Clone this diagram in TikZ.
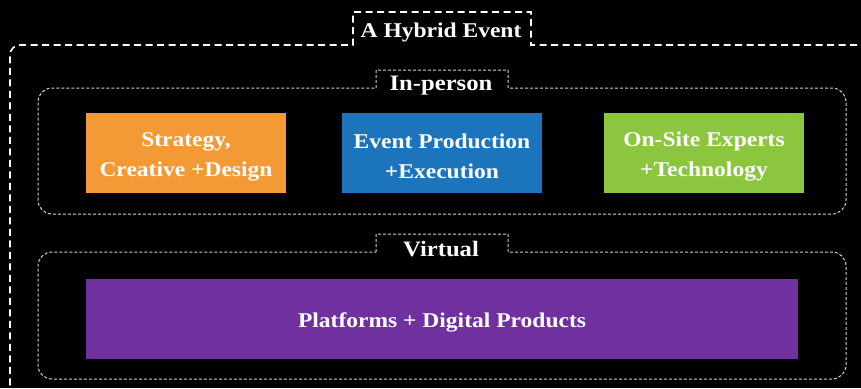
\documentclass[tikz,border=0pt]{standalone}
\usepackage{fontspec}
\setmainfont{Liberation Serif}[FakeStretch=1.12]
\definecolor{strategyorange}{HTML}{F39A37}
\definecolor{productionblue}{HTML}{1C75BC}
\definecolor{expertgreen}{HTML}{8CC63F}
\definecolor{platformpurple}{HTML}{7030A0}
\definecolor{framegray}{HTML}{D0D0D0}
\newcommand{\topstrut}{\rule{0pt}{21pt}}
\begin{document}
\begin{tikzpicture}[x=1pt,y=-1pt,
	box/.style={minimum width=200pt,minimum height=80pt,inner sep=0pt,align=center,text=white,
		font=\bfseries\fontsize{21}{30}\selectfont},
	tag/.style={inner sep=0pt,anchor=base,text=white,font=\bfseries\fontsize{22}{26}\selectfont},
	outerframe/.style={white,line width=1.6pt,dash pattern=on 7pt off 4.5pt},
	innerframe/.style={framegray,line width=1pt,dash pattern=on 3pt off 2pt}]
	\fill[black] (0,0) rectangle (861,388);
	\useasboundingbox (0,0) rectangle (861,388);
	% outer frame
	\draw[outerframe] (880,45) -- (531,45) -- (531,12) -- (353,12) -- (353,45)
	[rounded corners=10pt] -- (10,45) -- (10,395) -- (40,395);
	\node[tag,font=\bfseries\fontsize{21}{26}\selectfont] (hybrid) at (441,37) {A Hybrid Event};
	% in-person frame
	\draw[innerframe] (376,88) -- (376,70) -- (508,70) -- (508,88)
	[rounded corners=14pt] -- (846,88) -- (846,214) -- (38,214) -- (38,88) -- (376,88);
	\node[tag] (inperson) at (441,90) {In-person};
	\node[box,fill=strategyorange] (strategy) at (186,153) {\topstrut Strategy,\\Creative +Design};
	\node[box,fill=productionblue] (production) at (442,153) {\topstrut Event Production\\+Execution};
	\node[box,fill=expertgreen] (experts) at (704,153) {\topstrut On-Site Experts\\+Technology};
	% virtual frame
	\draw[innerframe] (376,252) -- (376,234) -- (508,234) -- (508,252)
	[rounded corners=14pt] -- (846,252) -- (846,379) -- (38,379) -- (38,252) -- (376,252);
	\node[tag] (virtual) at (441,256) {Virtual};
	\node[box,fill=platformpurple,minimum width=712pt] (platforms) at (442,319) {\topstrut Platforms + Digital Products};
\end{tikzpicture}
\end{document}
